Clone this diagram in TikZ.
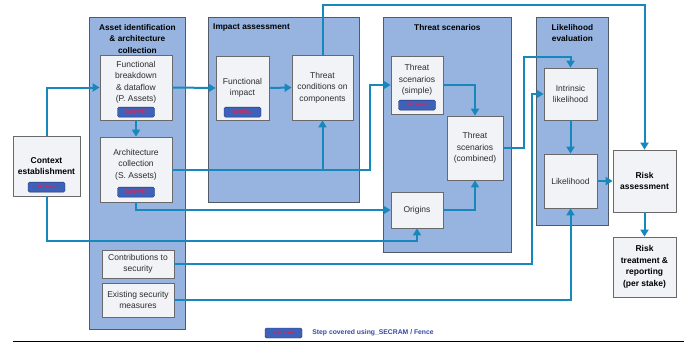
\documentclass[tikz,border=0pt]{standalone}
\usepackage{fontspec}
\setmainfont{Liberation Sans}
\usepackage{xcolor}
\usetikzlibrary{arrows.meta, positioning}

\definecolor{stagefill}{RGB}{151,180,224}
\definecolor{stageborder}{RGB}{82,90,104}
\definecolor{boxfill}{RGB}{241,243,246}
\definecolor{boxborder}{RGB}{105,105,105}
\definecolor{flowblue}{RGB}{24,136,188}
\definecolor{badgefill}{RGB}{62,98,186}
\definecolor{badgeborder}{RGB}{32,50,110}
\definecolor{badgetext}{RGB}{236,30,72}
\definecolor{legendblue}{RGB}{52,72,165}
\definecolor{textgray}{RGB}{45,45,45}

% extra empty line to lift the text above a badge
\newcommand{\lift}{\\[0.5pt]\mbox{}}

\begin{document}
\begin{tikzpicture}[
  x=1pt, y=-1pt,
  every node/.style={font=\fontsize{8.5}{11.5}\selectfont},
  stage/.style={draw=stageborder, fill=stagefill, line width=0.8pt,
                anchor=north west, inner sep=0pt},
  stagetitle/.style={font=\fontsize{8.3}{11.5}\selectfont\bfseries,
                     align=center, inner sep=0pt},
  box/.style={draw=boxborder, fill=boxfill, line width=0.7pt, align=center,
              inner sep=1pt, text=textgray},
  keybox/.style={box, font=\fontsize{8.5}{11.5}\selectfont\bfseries, text=black},
  badge/.style={draw=badgeborder, fill=badgefill, rounded corners=1.5pt,
                minimum width=37pt, minimum height=10pt, inner sep=0pt,
                font=\fontsize{4.6}{5}\selectfont\bfseries, text=badgetext},
  flow/.style={-{Triangle[length=7pt, width=8pt]}, draw=flowblue, line width=2pt},
  legend/.style={font=\fontsize{6.8}{8}\selectfont\bfseries, text=legendblue, inner sep=0pt},
]
\useasboundingbox (0,0) rectangle (684,343);

% stages
\node[stage, minimum width=96pt,  minimum height=312pt] (asset)  at (89,17)  {};
\node[stage, minimum width=151pt, minimum height=185pt] (impact) at (208,17) {};
\node[stage, minimum width=128pt, minimum height=235pt] (threat) at (383,17) {};
\node[stage, minimum width=72pt,  minimum height=208pt] (likely) at (536,17) {};

\node[stagetitle, below=7pt of asset.north] (assettitle)
  {Asset identification\\\& architecture\\collection};
\node[stagetitle, anchor=north west] (impacttitle)
  at ([xshift=5pt, yshift=-7pt]impact.north west) {Impact assessment};
\node[stagetitle, below=7pt of threat.north] (threattitle) {Threat scenarios};
\node[stagetitle, below=7pt of likely.north] (likelytitle) {Likelihood\\evaluation};

% steps
\node[keybox, minimum width=67pt, minimum height=60pt] (ctx) at (46.5,166)
  {Context\\establishment};
\node[box, minimum width=72pt, minimum height=65pt] (fb) at (136,87.5)
  {Functional\\breakdown\\\& dataflow\\(P. Assets)\lift};
\node[box, minimum width=72pt, minimum height=65pt] (arch) at (136,169.5)
  {Architecture\\collection\\(S. Assets)\lift};
\node[box, minimum width=72pt, minimum height=28pt] (contrib) at (138,264)
  {Contributions to\\security};
\node[box, minimum width=72pt, minimum height=34pt] (exist) at (138,300)
  {Existing security\\measures};
\node[box, minimum width=53pt, minimum height=64pt] (fimp) at (242.5,88)
  {Functional\\impact};
\node[box, minimum width=61pt, minimum height=65pt] (tcond) at (322.5,87.5)
  {Threat\\conditions on\\components};
\node[box, minimum width=52pt, minimum height=58pt] (simple) at (417,85)
  {Threat\\scenarios\\(simple)\lift};
\node[box, minimum width=56pt, minimum height=64pt] (comb) at (475,148)
  {Threat\\scenarios\\(combined)};
\node[box, minimum width=52pt, minimum height=36pt] (orig) at (417,210) {Origins};
\node[box, minimum width=53pt, minimum height=52pt] (intr) at (570.5,94)
  {Intrinsic\\likelihood};
\node[box, minimum width=53pt, minimum height=54pt] (lik) at (570.5,181) {Likelihood};
\node[keybox, minimum width=63pt, minimum height=62pt] (risk) at (644.5,181)
  {Risk\\assessment};
\node[keybox, minimum width=63pt, minimum height=60pt] (treat) at (644.5,267)
  {Risk\\treatment \&\\reporting\\(per stake)};

% SECRAM badges
\node[badge, above=4pt of ctx.south]    (ctxbadge)    {SECRAM};
\node[badge, above=3pt of fb.south]     (fbbadge)     {SECRAM};
\node[badge, above=5pt of arch.south]   (archbadge)   {SECRAM};
\node[badge, above=3pt of fimp.south]   (fimpbadge)   {SECRAM};
\node[badge, above=4pt of simple.south] (simplebadge) {SECRAM};

% flows
\draw[flow] (ctx.north) |- (fb.west);
\draw[flow] (ctx.south) -- ++(0,45) -| (orig.south);
\draw[flow] (fb.east) -- (fimp.west);
\draw[flow] (fb.south) -- (arch.north);
\draw[flow] (arch.south) |- (orig.west);
\draw[flow] (arch.east) -| (tcond.south);
\draw[flow] (arch.east) -| ([xshift=-21pt]simple.west) -- (simple.west);
\draw[flow] (contrib.east) -| ([xshift=-12pt]intr.west) -- (intr.west);
\draw[flow] (exist.east) -| (lik.south);
\draw[flow] (fimp.east) -- (tcond.west);
\draw[flow] (tcond.north) -- ++(0,-50) -| (risk.north);
\draw[flow] (simple.east) -| (comb.north);
\draw[flow] (orig.east) -| (comb.south);
\draw[flow] (comb.east) -- ++(21,0) |- ([yshift=11pt]intr.north) -- (intr.north);
\draw[flow] (intr.south) -- (lik.north);
\draw[flow] (lik.east) -- (risk.west);
\draw[flow] (risk.south) -- (treat.north);

% legend
\node[badge] (legbadge) at (283.5,333) {SECRAM};
\node[legend, right=10pt of legbadge] (legtext) {Step covered using\_SECRAM / Fence};
\draw[line width=1.2pt] (13,341.5) -- (684,341.5);
\end{tikzpicture}
\end{document}
